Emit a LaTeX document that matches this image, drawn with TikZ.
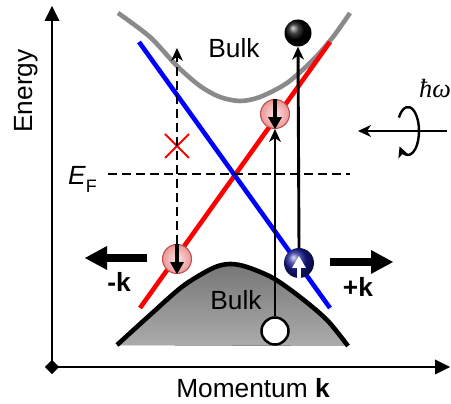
\documentclass[tikz,border=0pt]{standalone}
\usepackage[no-math]{fontspec}
\setmainfont{Liberation Sans}
\newfontfamily\hwfont{Liberation Serif}
\usetikzlibrary{arrows.meta,calc,shadings}
\definecolor{bulkgray}{RGB}{138,138,138}
\definecolor{pinkborder}{RGB}{185,85,85}
\definecolor{pinkin}{RGB}{252,228,228}
\definecolor{pinkout}{RGB}{236,150,150}
\definecolor{navy}{RGB}{25,30,150}
\definecolor{filltop}{RGB}{118,118,118}
\definecolor{fillbot}{RGB}{172,172,172}
\begin{document}
\begin{tikzpicture}[x=1pt,y=-1pt,
  font=\fontsize{26.3}{30}\selectfont,
  axisline/.style={line width=2.6pt},
  axistip/.style={-{Triangle[length=15pt,width=15pt,line width=0pt]}},
  bandline/.style={line width=4.6pt},
  dashline/.style={line width=2pt, dash pattern=on 9pt off 5pt},
  vline/.style={line width=2.9pt},
  smalltip/.style={-{Stealth[length=13pt,width=12pt,inset=4pt,line width=0pt]}},
  thickarrow/.style={line width=8pt,-{Triangle[length=22pt,width=24pt,line width=0pt]}},
  inarrow/.style={line width=4.5pt,-{Triangle[length=12pt,width=14pt,line width=0pt]}},
  pinkball/.style={circle, minimum size=29pt, inner sep=0pt, draw=pinkborder, line width=1.1pt, inner color=pinkin, outer color=pinkout},
  blueball/.style={circle, minimum size=30pt, inner sep=0pt, shading=ball, ball color=navy},
  blackball/.style={circle, minimum size=27pt, inner sep=0pt, shading=ball, ball color=black},
  whiteball/.style={circle, minimum size=27pt, inner sep=0pt, fill=white, draw=black, line width=2.5pt},
  lbl/.style={inner sep=0pt, anchor=base}
]
\useasboundingbox (0,0) rectangle (451,404);

% axes
\coordinate (org) at (52,367);
\coordinate (ytop) at (52,6);
\coordinate (xend) at (450,367);
\draw[axisline,axistip] (org) -- (ytop);
\draw[axisline,axistip] (org) -- (xend);
\node[fill=black, minimum size=10pt, inner sep=0pt, rotate=45] (diam) at (org) {};

% lower bulk
\fill[top color=filltop, bottom color=fillbot]
  plot[smooth] coordinates {(117,345) (150,315) (183,286) (213,268) (230,264) (247,267) (273,278) (300,297) (327,320) (348,346)} -- cycle;
\draw[line width=4.6pt, line cap=butt]
  plot[smooth] coordinates {(117,345) (150,315) (183,286) (213,268) (230,264) (247,267) (273,278) (300,297) (327,320) (348,346)};

% upper bulk
\draw[bulkgray, line width=4.6pt]
  plot[smooth] coordinates {(118,13) (150,37) (177,66) (200,86) (220,97) (240,101) (260,97) (287,83) (313,60) (333,37) (350,13)};

% surface bands
\coordinate (bA) at (139,42);
\coordinate (bB) at (330,308);
\coordinate (rA) at (140,308);
\coordinate (rB) at (330,42);
\draw[bandline, red] (rA) -- (rB);
\draw[bandline, blue] (bA) -- (bB);

% Fermi level
\coordinate (efA) at (108,174);
\coordinate (efB) at (350,174);
\draw[dashline] (efA) -- (efB);

% red cross
\coordinate (xc) at (177,146);
\draw[red, line width=1.8pt] ($(xc)+(-12,-12)$) -- ($(xc)+(12,12)$) ($(xc)+(-12,12)$) -- ($(xc)+(12,-12)$);

% balls
\node[pinkball] (pL) at (177,259) {};
\node[pinkball] (pU) at (275,114) {};
\node[blueball] (bb) at (299,263) {};
\node[blackball] (kb) at (298,33) {};
\node[whiteball] (wb) at (275,331) {};

% transitions
\coordinate (dtop) at (177,48);
\draw[dashline, smalltip] (pL.north) -- (dtop);
\draw[vline, smalltip] (wb.north) -- (pU.south);
\draw[vline, smalltip] (bb.north) -- (kb.south);

% spin arrows inside balls
\draw[inarrow] (pL.north) -- (pL.south);
\draw[inarrow] (pU.north) -- (pU.south);
\draw[inarrow, white] (bb.south) -- ($(bb.center)+(0,-7)$);

% momentum arrows
\coordinate (lka) at (147,258);
\coordinate (lkb) at (85,258);
\coordinate (rka) at (330,262);
\coordinate (rkb) at (393,262);
\draw[thickarrow] (lka) -- (lkb);
\draw[thickarrow] (rka) -- (rkb);

% light
\coordinate (hs) at (447,131);
\coordinate (he) at (358,131);
\coordinate (rc) at (408,131);
\draw[line width=2.4pt, smalltip] (hs) -- (he);
\draw[line width=2.4pt, -{Stealth[length=11pt,width=11pt,inset=3pt,line width=0pt]}]
  ($(rc)+(214:11 and 24)$) arc[start angle=214, end angle=500, x radius=11, y radius=24];

% labels
\node[lbl, rotate=90] (en) at (33,91) {Energy};
\node[lbl] (mom) at (253,398) {Momentum \textbf{k}};
\node[lbl] (bu1) at (234,58) {Bulk};
\node[lbl] (bu2) at (236,310) {Bulk};
\node[lbl] (mk) at (119,292) {\textbf{-k}};
\node[lbl] (pk) at (358,297) {\textbf{+k}};
\node[lbl] (hw) at (435,98) {\hwfont\itshape ħω};
\node[inner sep=0pt, anchor=base west] (ef) at (68,185) {\textit{E}\raisebox{-0.28em}{\fontsize{18}{20}\selectfont F}};
\end{tikzpicture}
\end{document}
